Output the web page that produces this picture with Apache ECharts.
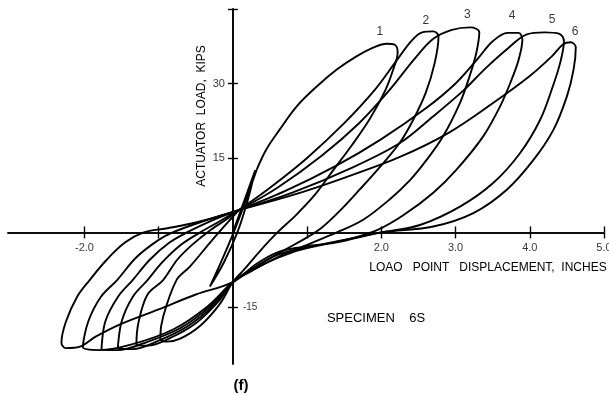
<!DOCTYPE html>
<html>
<head>
<meta charset="utf-8">
<script src="https://cdn.jsdelivr.net/npm/echarts@6/dist/echarts.min.js"></script>
<style>
html,body{margin:0;padding:0;background:#fff;}
#chart{width:609px;height:395px;}
</style>
</head>
<body>
<div id="chart"></div>
<script>
// Displacement (inches), load (kips)
const cycle0 = [[0,0],[0.12,5],[0.3,12.5],[0.2,6.5],[0.06,0],[-0.12,-6],[-0.31,-10.9],[-0.16,-6],[0.01,0],[0.15,5.5],[0.32,12.6]];
const loop1 = [[0.32,12.6],[0.45,16.7],[0.63,20.7],[0.86,25.4],[1.13,29.4],[1.4,32.8],[1.67,35.5],[1.89,37.2],[2.07,38.0],[2.18,37.8],[2.22,36.3],
  [2.16,32.8],[2.05,28.5],[1.85,23],[1.6,17.5],[1.35,12.5],[1.1,7.5],[0.85,3.5],[0.6,0],[0.35,-4],[0.15,-7.5],[0,-10],
  [-0.18,-14.5],[-0.44,-18.8],[-0.71,-21.4],[-0.89,-22],[-0.98,-21.3],
  [-0.94,-17],[-0.76,-9.6],[-0.58,-6.9],[-0.31,-2.1],[-0.1,1.5],[0.08,4.5]];
const loop2 = [[0.08,4.5],[0.5,9],[1.0,15],[1.5,22],[1.9,28.5],[2.2,34.5],[2.4,38.5],[2.55,40.3],[2.7,40.5],[2.77,39.5],
  [2.72,34.2],[2.6,28.2],[2.43,22.7],[2.25,18.1],[2.0,13.5],[1.7,8.5],[1.45,4.5],[1.2,1],[1.0,-1],[0.7,-3.5],[0.35,-6.5],[0,-10],
  [-0.2,-14],[-0.5,-18.3],[-0.85,-21.3],[-1.15,-22.8],[-1.3,-22.6],
  [-1.27,-18],[-1.15,-12.5],[-0.94,-9.6],[-0.75,-5.5],[-0.55,-2.5],[-0.3,0.5],[-0.05,3],[0.08,4.5]];
const loop3 = [[0.08,4.5],[0.6,9],[1.2,15.5],[1.7,22],[2.1,28.5],[2.45,35],[2.7,39],[2.95,40.8],[3.2,41.3],[3.32,40.3],
  [3.28,36.2],[3.19,31.5],[3.06,26.1],[2.83,19.3],[2.61,14.6],[2.39,10.6],[2.1,6.5],[1.75,2.5],[1.4,0],[1.0,-2.5],[0.6,-5],[0.25,-7.8],[0,-10],
  [-0.25,-14.5],[-0.6,-18.8],[-1.0,-21.8],[-1.35,-23.5],[-1.55,-23.4],
  [-1.5,-18],[-1.35,-13],[-1.15,-9.6],[-0.95,-6],[-0.7,-2.5],[-0.44,0],[-0.15,2.5],[0.08,4.5]];
const loop4 = [[0.08,4.5],[0.7,8.3],[1.4,13.5],[2.0,18.8],[2.6,25],[3.0,30],[3.3,35],[3.5,38.5],[3.7,40.2],[3.85,40.2],[3.9,38.8],
  [3.85,34.8],[3.74,30.2],[3.6,25.4],[3.37,19.3],[3.01,12.6],[2.7,8],[2.3,3.5],[1.95,0.5],[1.65,-1],[1.2,-2.5],[0.8,-4],[0.4,-6.5],[0,-10],
  [-0.3,-14.8],[-0.7,-19.2],[-1.2,-22.3],[-1.55,-23.7],[-1.77,-23.6],
  [-1.72,-18],[-1.55,-13],[-1.35,-9.6],[-1.12,-5.5],[-0.85,-2],[-0.62,0],[-0.3,2.3],[0.08,4.5]];
const loop5 = [[0.08,4.5],[0.8,8],[1.6,13],[2.25,18],[2.7,23.4],[3.1,28.5],[3.4,33],[3.7,37],[3.96,39.9],[4.2,40.3],[4.4,40],[4.46,38.5],
  [4.41,34.2],[4.31,29.4],[4.14,22.7],[3.87,16],[3.51,10],[3.06,5.2],[2.52,1.5],[2.0,0],[1.5,-1.5],[1.0,-3],[0.6,-4.5],[0.3,-7],[0,-10],
  [-0.35,-15],[-0.8,-19.5],[-1.35,-22.5],[-1.8,-23.7],[-2.02,-23.1],
  [-1.95,-18],[-1.78,-13],[-1.56,-9.6],[-1.3,-5],[-1.0,-1.5],[-0.81,0],[-0.45,2],[0.08,4.5]];
const loop6 = [[0.08,4.5],[0.8,7.5],[1.5,11],[2.25,15.2],[2.9,20],[3.5,26],[4.0,31.5],[4.3,35.5],[4.45,37.9],[4.55,38.3],[4.62,37.3],
  [4.59,32.8],[4.5,27.4],[4.32,20.7],[4.05,14.6],[3.69,8.6],[3.24,3.9],[2.7,1.2],[2.0,0],[1.4,-2],[0.9,-3],[0.6,-4],[0.3,-6.5],[0,-10],
  [-0.5,-12.5],[-1.0,-15.5],[-1.52,-18.5],[-1.85,-21],[-2.06,-23],[-2.25,-23.3],[-2.31,-22.2],
  [-2.25,-18],[-2.1,-13],[-1.93,-9.6],[-1.7,-5.5],[-1.45,-2],[-1.2,0],[-0.9,0.8],[-0.5,2],[0.08,4.5]];
const loops = [cycle0, loop1, loop2, loop3, loop4, loop5, loop6];

const loopLabelText = ['1','2','3','4','5','6'];
const loopLabelAt = [[1.98,40.5],[2.6,42.7],[3.16,43.8],[3.76,43.7],[4.3,42.9],[4.61,40.4]];

const xTicks = [-2, -1, 1, 2, 3, 4, 5];
const xTickLabels = [-2, 2, 3, 4, 5];
const yTicks = [45, 30, 15, -15];
const yTickLabelsLeft = [30, 15];
const yTickLabelsRight = [-15];

const FONT = 'Liberation Sans';
const chart = echarts.init(document.getElementById('chart'), null, {renderer: 'canvas'});

const xBase = {
  type: 'value', min: -3.03, max: 5.0,
  splitLine: {show: false}, axisLabel: {show: false},
  axisLine: {onZero: true, lineStyle: {color: '#000', width: 1.6}},
  axisTick: {show: true, length: 6, customValues: xTicks, lineStyle: {color: '#000', width: 1.4}},
};
const yBase = {
  type: 'value', min: -26.5, max: 45,
  splitLine: {show: false}, axisLabel: {show: false},
  axisLine: {onZero: true, lineStyle: {color: '#000', width: 1.6}},
  axisTick: {show: true, length: 5, customValues: yTicks, lineStyle: {color: '#000', width: 1.4}},
};

const labelStyle = {color: '#000', fontFamily: FONT, fontSize: 11};
const series = loops.map(function (d) {
  return {
    type: 'line', data: d, xAxisIndex: 0, yAxisIndex: 0,
    showSymbol: false, smooth: 0.35, silent: true,
    lineStyle: {color: '#000', width: 1.9}
  };
});
// loop numbers
series.push({
  type: 'scatter', xAxisIndex: 0, yAxisIndex: 0, symbolSize: 0, silent: true,
  data: loopLabelAt.map(function (p, i) { return {value: p, name: loopLabelText[i]}; }),
  label: {show: true, position: 'inside', formatter: '{b}', fontSize: 12, color: '#000', fontFamily: FONT}
});
// x tick labels, placed on the zero line through the axis scale
series.push({
  type: 'scatter', xAxisIndex: 0, yAxisIndex: 0, symbolSize: 0, silent: true,
  data: xTickLabels.map(function (v) { return {value: [v, 0], name: v.toFixed(1)}; }),
  label: Object.assign({show: true, position: 'bottom', distance: 10, formatter: '{b}'}, labelStyle)
});
// y tick labels (left of axis)
series.push({
  type: 'scatter', xAxisIndex: 0, yAxisIndex: 0, symbolSize: 0, silent: true,
  data: yTickLabelsLeft.map(function (v) { return {value: [0, v], name: String(v)}; }),
  label: Object.assign({show: true, position: 'left', distance: 8, formatter: '{b}'}, labelStyle)
});
// y tick labels (right of axis)
series.push({
  type: 'scatter', xAxisIndex: 0, yAxisIndex: 0, symbolSize: 0, silent: true,
  data: yTickLabelsRight.map(function (v) { return {value: [0, v], name: String(v)}; }),
  label: Object.assign({show: true, position: 'right', distance: 10, formatter: '{b}'}, labelStyle, {fontSize: 10})
});

chart.setOption({
  backgroundColor: '#fff',
  animation: false,
  grid: {left: 8, right: 5, top: 9, bottom: 31, containLabel: false, outerBoundsMode: 'none'},
  xAxis: [
    Object.assign({}, xBase, {position: 'bottom'}),
    Object.assign({}, xBase, {position: 'top'})
  ],
  yAxis: [
    Object.assign({}, yBase, {position: 'left'}),
    Object.assign({}, yBase, {position: 'right'})
  ],
  graphic: [
    {type: 'text', x: 202, y: 116, rotation: Math.PI / 2,
      style: {text: 'ACTUATOR  LOAD,  KIPS', fill: '#000', font: '12px "Liberation Sans"', align: 'center', verticalAlign: 'middle'}},
    {type: 'text', x: 488, y: 268,
      style: {text: 'LOAO   POINT   DISPLACEMENT,  INCHES', fill: '#000', font: '12px "Liberation Sans"', align: 'center', verticalAlign: 'middle'}},
    {type: 'text', x: 376, y: 318,
      style: {text: 'SPECIMEN    6S', fill: '#000', font: '13px "Liberation Sans"', align: 'center', verticalAlign: 'middle'}},
    {type: 'text', x: 241, y: 386,
      style: {text: '(f)', fill: '#000', font: 'bold 15px "Liberation Sans"', align: 'center', verticalAlign: 'middle'}}
  ],
  series: series
});
</script>
</body>
</html>
